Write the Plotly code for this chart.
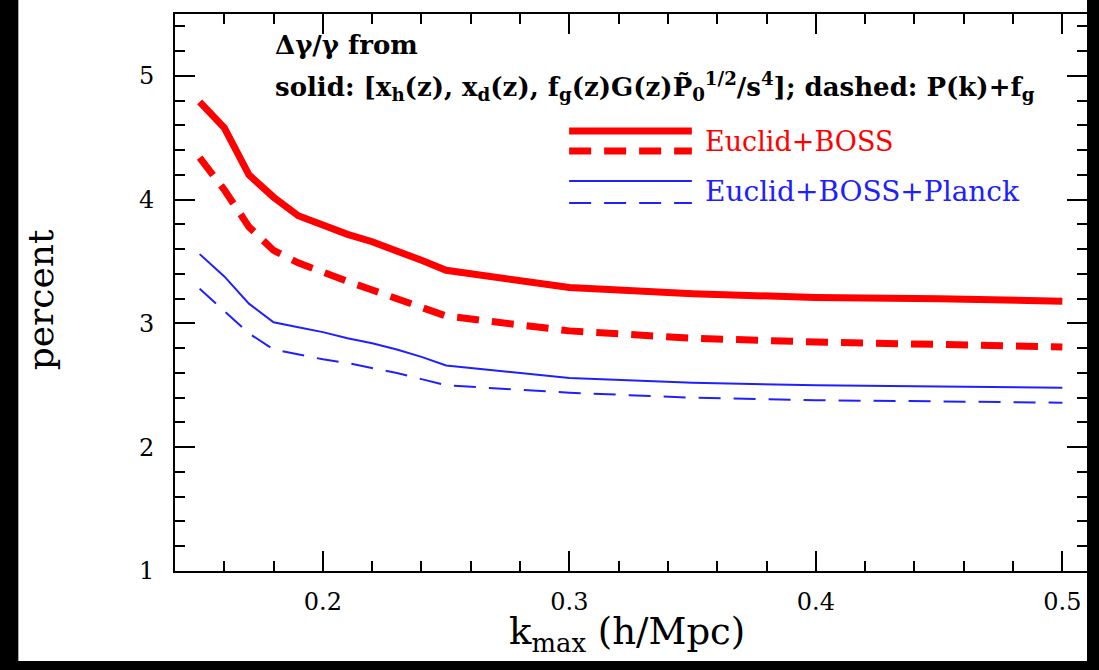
import plotly.graph_objects as go

# k_max values (h/Mpc)
k_max = [0.15, 0.16, 0.17, 0.18, 0.19, 0.20, 0.21, 0.22, 0.23, 0.24, 0.25,
         0.30, 0.35, 0.40, 0.45, 0.50]

# percent errors on gamma
euclid_boss_solid = [4.79, 4.58, 4.20, 4.02, 3.87, 3.79, 3.72, 3.66, 3.59, 3.51, 3.43,
                     3.29, 3.24, 3.21, 3.20, 3.18]
euclid_boss_dashed = [4.34, 4.08, 3.78, 3.59, 3.49, 3.41, 3.34, 3.27, 3.20, 3.13, 3.06,
                      2.94, 2.88, 2.85, 2.83, 2.81]
planck_solid = [3.56, 3.38, 3.16, 3.01, 2.97, 2.93, 2.88, 2.84, 2.79, 2.73, 2.66,
                2.56, 2.52, 2.50, 2.49, 2.48]
planck_dashed = [3.28, 3.10, 2.92, 2.79, 2.75, 2.71, 2.68, 2.64, 2.60, 2.55, 2.50,
                 2.44, 2.40, 2.38, 2.37, 2.36]

RED = "#ff0000"
BLUE = "#2020ff"
FONT = "DejaVu Serif"
DASH = "22px,13px"

# plot area in pixels (used to place paper-referenced decorations)
W, H = 1099, 670
L, R, T, B = 175, 10, 14, 99
PW, PH = W - L - R, H - T - B


def px(x):
    return (x - L) / PW


def py(y):
    return (H - B - y) / PH


fig = go.Figure()
fig.add_trace(go.Scatter(x=k_max, y=euclid_boss_solid, mode="lines",
                         line=dict(color=RED, width=7)))
fig.add_trace(go.Scatter(x=k_max, y=euclid_boss_dashed, mode="lines",
                         line=dict(color=RED, width=7, dash=DASH)))
fig.add_trace(go.Scatter(x=k_max, y=planck_solid, mode="lines",
                         line=dict(color=BLUE, width=2)))
fig.add_trace(go.Scatter(x=k_max, y=planck_dashed, mode="lines",
                         line=dict(color=BLUE, width=2, dash=DASH)))

axis_common = dict(
    showgrid=False, zeroline=False, showline=True, linecolor="black",
    linewidth=2, mirror="ticks", ticks="inside", tickcolor="black",
    tickwidth=2, ticklen=20,
    tickfont=dict(family=FONT, size=24, color="black"),
)

fig.update_xaxes(range=[0.14, 0.51], tickvals=[0.2, 0.3, 0.4, 0.5],
                 ticktext=["0.2", "0.3", "0.4", "0.5"],
                 minor=dict(ticks="inside", dtick=0.02, tick0=0.2, ticklen=10,
                            tickwidth=2, tickcolor="black"),
                 ticklabelstandoff=8, **axis_common)
fig.update_yaxes(range=[1, 5.5], tickvals=[1, 2, 3, 4, 5],
                 minor=dict(ticks="inside", dtick=0.2, tick0=1, ticklen=10,
                            tickwidth=2, tickcolor="black"),
                 ticklabelstandoff=14, **axis_common)

shapes = [
    # white page inside the black frame
    dict(type="rect", xref="paper", yref="paper", layer="below",
         x0=px(18), x1=px(1089), y0=py(661), y1=py(0),
         fillcolor="white", line=dict(width=0)),
    # legend samples
    dict(type="line", xref="paper", yref="paper", x0=px(570), x1=px(693),
         y0=py(131), y1=py(131), line=dict(color=RED, width=7)),
    dict(type="line", xref="paper", yref="paper", x0=px(570), x1=px(693),
         y0=py(151), y1=py(151), line=dict(color=RED, width=7, dash=DASH)),
    dict(type="line", xref="paper", yref="paper", x0=px(570), x1=px(693),
         y0=py(181), y1=py(181), line=dict(color=BLUE, width=2)),
    dict(type="line", xref="paper", yref="paper", x0=px(570), x1=px(693),
         y0=py(203), y1=py(203), line=dict(color=BLUE, width=2, dash=DASH)),
]

annotations = [
    dict(text="Δγ/γ from", x=px(273), y=py(45)),
    dict(text="solid: [x<sub>h</sub>(z), x<sub>d</sub>(z), f<sub>g</sub>(z)G(z)"
              "P̃<sub>0</sub><sup>1/2</sup>/s<sup>4</sup>]; dashed: P(k)+f<sub>g</sub>",
         x=px(273), y=py(86)),
    dict(text="Euclid+BOSS", x=px(704), y=py(141),
         font=dict(family=FONT, size=27, color=RED)),
    dict(text="Euclid+BOSS+Planck", x=px(704), y=py(191),
         font=dict(family=FONT, size=28, color=BLUE)),
]
for a in annotations:
    a.setdefault("font", dict(family=FONT, size=26, color="black", weight="bold"))
    a.update(xref="paper", yref="paper", xanchor="left", yanchor="middle",
             showarrow=False)

annotations += [
    dict(text="percent", x=px(40), y=py(300), textangle=-90,
         font=dict(family=FONT, size=36, color="black")),
    dict(text="k<sub>max</sub> (h/Mpc)", x=px(628), y=py(634),
         font=dict(family=FONT, size=37, color="black")),
]
for a in annotations[-2:]:
    a.update(xref="paper", yref="paper", xanchor="center", yanchor="middle",
             showarrow=False)

fig.update_layout(
    width=W, height=H,
    margin=dict(l=L, r=R, t=T, b=B),
    paper_bgcolor="black", plot_bgcolor="white",
    showlegend=False,
    shapes=shapes, annotations=annotations,
)

fig.write_html("out.html", config={"displayModeBar": False},
               post_script="document.body.style.margin = '0px';")
